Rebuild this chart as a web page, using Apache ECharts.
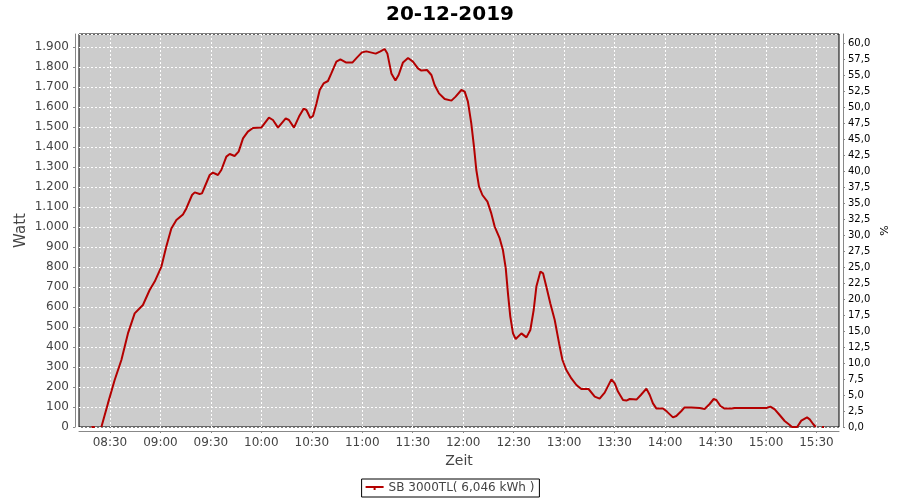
<!DOCTYPE html>
<html>
<head>
<meta charset="utf-8">
<script src="https://cdn.jsdelivr.net/npm/echarts@6/dist/echarts.min.js"></script>
<style>html,body{margin:0;padding:0;background:#fff}#c{width:900px;height:500px}</style>
</head>
<body>
<div id="c"></div>
<script>
// Time in minutes after midnight, null = gap in the record
var minutes = [499.0, 501.0, null, 504.9, 508.8, 512.8, 516.8, 520.7, 524.7, 529.6, 533.6, 536.6, 540.6, 543.5, 546.5, 549.5, 553.4, 555.4, 558.8, 560.4, 563.3, 564.7, 569.3, 571.2, 574.2, 576.2, 579.2, 581.2, 584.1, 586.5, 589.1, 592.0, 595.0, 600.0, 604.5, 606.9, 609.9, 614.5, 616.4, 619.4, 622.4, 625.2, 626.8, 629.1, 630.7, 632.7, 634.7, 637.0, 639.6, 641.6, 644.6, 647.0, 650.5, 654.1, 656.8, 659.8, 662.4, 668.0, 670.8, 673.3, 674.9, 677.3, 679.7, 681.6, 684.2, 687.2, 690.1, 693.1, 695.1, 698.5, 701.1, 703.0, 705.6, 709.0, 713.0, 715.5, 718.9, 720.9, 722.8, 724.8, 726.4, 727.8, 729.4, 731.4, 734.4, 736.7, 738.7, 741.7, 743.6, 745.3, 746.6, 748.0, 749.6, 751.2, 754.6, 757.6, 759.9, 761.9, 763.5, 765.9, 767.5, 769.4, 771.8, 774.4, 777.0, 779.0, 781.3, 784.3, 787.3, 790.2, 794.5, 798.2, 801.1, 804.1, 808.1, 810.1, 812.0, 815.0, 817.0, 819.0, 823.0, 825.6, 828.9, 830.9, 832.8, 834.8, 838.8, 841.1, 844.7, 846.7, 849.7, 851.6, 855.6, 860.6, 863.5, 866.5, 868.9, 870.5, 872.9, 875.4, 879.4, 881.4, 900.2, 902.6, 905.2, 908.1, 911.1, 914.1, 915.4, 918.5, 919.5, 921.0, 924.4, 926.0, 928.0, 929.6, null, 933.3, 934.5];
var watts = [0, 0, null, 0, 118, 235, 335, 468, 568, 610, 685, 727, 802, 902, 993, 1035, 1063, 1093, 1160, 1173, 1165, 1168, 1260, 1272, 1260, 1285, 1352, 1365, 1355, 1377, 1443, 1477, 1495, 1497, 1547, 1535, 1497, 1543, 1535, 1497, 1552, 1592, 1585, 1545, 1555, 1615, 1685, 1718, 1730, 1768, 1827, 1838, 1822, 1822, 1847, 1873, 1878, 1867, 1878, 1890, 1868, 1768, 1732, 1760, 1823, 1845, 1827, 1793, 1782, 1785, 1760, 1710, 1668, 1640, 1632, 1652, 1685, 1677, 1627, 1518, 1402, 1285, 1202, 1160, 1127, 1068, 1002, 943, 885, 793, 668, 552, 468, 440, 468, 448, 485, 585, 702, 777, 768, 702, 618, 535, 418, 335, 285, 243, 210, 190, 190, 152, 142, 172, 238, 218, 177, 135, 132, 140, 137, 160, 192, 160, 118, 93, 93, 77, 48, 55, 80, 98, 98, 95, 90, 115, 140, 135, 105, 92, 92, 95, 95, 102, 88, 60, 30, 10, 0, 0, 8, 32, 48, 38, 15, 0, null, 0, 0];
var xTickLabels = ['08:30', '09:00', '09:30', '10:00', '10:30', '11:00', '11:30', '12:00', '12:30', '13:00', '13:30', '14:00', '14:30', '15:00', '15:30'];
var seriesName = 'SB 3000TL( 6,046 kWh )';
var titleText = '20-12-2019';

function toMin(s) { var p = s.split(':'); return +p[0] * 60 + +p[1]; }
var xTickValues = xTickLabels.map(toMin);
var pts = minutes.map(function (m, i) { return m === null ? ['-', '-'] : [m, watts[i]]; });

var FONT = 'DejaVu Sans';
var chart = echarts.init(document.getElementById('c'));
chart.setOption({
  animation: false,
  backgroundColor: '#ffffff',
  title: {
    text: titleText, left: 'center', top: 0,
    textStyle: { fontFamily: FONT, fontSize: 20, fontWeight: 'bold', color: '#000' }
  },
  grid: {
    left: 79, right: 61, top: 34, bottom: 73,
    show: true, backgroundColor: '#cccccc', borderColor: '#000', borderWidth: 1
  },
  legend: {
    bottom: 3, left: 'center',
    data: [seriesName],
    borderColor: '#000', borderWidth: 1, borderRadius: 0,
    padding: [3, 5, 3, 4],
    itemWidth: 18, itemHeight: 8, itemGap: 4,
    icon: 'path://M0,3 L18,3 L18,5 L0,5 Z M8,5 L10,5 L10,7 L8,7 Z',
    textStyle: { fontFamily: FONT, fontSize: 12, color: '#444' }
  },
  xAxis: {
    type: 'value', min: 491.6, max: 943.4,
    offset: 4,
    name: 'Zeit', nameLocation: 'middle', nameGap: 22,
    nameTextStyle: { fontFamily: FONT, fontSize: 14, color: '#444' },
    axisLine: { show: true, onZero: false, lineStyle: { color: '#888', width: 1 } },
    axisTick: { show: true, length: 2, customValues: xTickValues, lineStyle: { color: '#888' } },
    axisLabel: {
      customValues: xTickValues, margin: 6,
      fontFamily: FONT, fontSize: 12, color: '#444',
      formatter: function (v) { var h = Math.floor(v / 60), m = Math.round(v - h * 60); return (h < 10 ? '0' : '') + h + ':' + (m < 10 ? '0' : '') + m; }
    },
    splitLine: { show: true, lineStyle: { color: '#ffffff', type: [2, 2], width: 1 } }
  },
  yAxis: [{
    type: 'value', min: 0, max: 1965, interval: 100,
    position: 'left', offset: 4,
    name: 'Watt', nameLocation: 'middle', nameGap: 46, nameMoveOverlap: false,
    nameTextStyle: { fontFamily: FONT, fontSize: 15, color: '#444' },
    axisLine: { show: true, lineStyle: { color: '#888', width: 1 } },
    axisTick: { show: true, length: 2, lineStyle: { color: '#888' } },
    axisLabel: {
      margin: 6, fontFamily: FONT, fontSize: 12, color: '#444', showMaxLabel: false,
      formatter: function (v) { if (v % 100 !== 0) return ''; return String(v).replace(/\B(?=(\d{3})+(?!\d))/g, '.'); }
    },
    splitLine: { show: true, lineStyle: { color: '#ffffff', type: [2, 2], width: 1 } }
  }, {
    type: 'value', min: 0, max: 61.4, interval: 2.5,
    position: 'right', offset: 4,
    name: '%', nameLocation: 'middle', nameGap: 37, nameRotate: 90, nameMoveOverlap: false,
    nameTextStyle: { fontFamily: FONT, fontSize: 11, color: '#000' },
    axisLine: { show: true, lineStyle: { color: '#888', width: 1 } },
    axisTick: { show: true, length: 2, lineStyle: { color: '#888' } },
    axisLabel: {
      margin: 5, fontFamily: FONT, fontSize: 10, color: '#000', showMaxLabel: false,
      formatter: function (v) { if (Math.abs(v / 2.5 - Math.round(v / 2.5)) > 1e-6) return ''; return v.toFixed(1).replace('.', ','); }
    },
    splitLine: { show: false }
  }],
  series: [{
    name: seriesName, type: 'line', yAxisIndex: 0,
    data: pts, showSymbol: false, connectNulls: false,
    lineStyle: { color: '#b40000', width: 2 },
    itemStyle: { color: '#b40000' }
  }]
});
</script>
</body>
</html>
